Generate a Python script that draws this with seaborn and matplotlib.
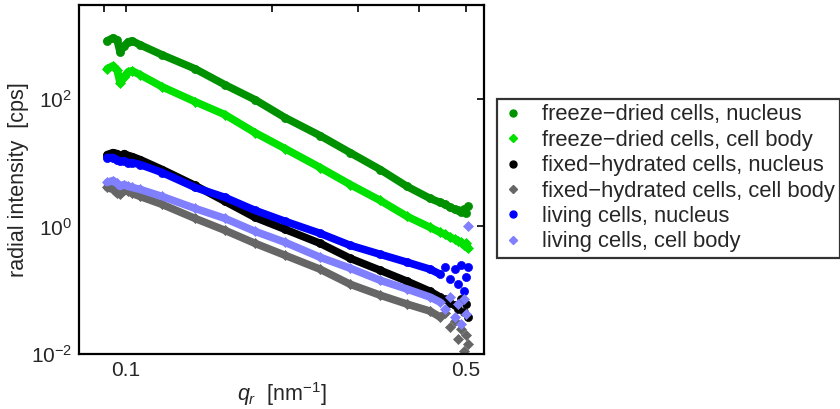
import numpy as np
import pandas as pd
import matplotlib
matplotlib.use("Agg")
import matplotlib.pyplot as plt
import seaborn as sns
from matplotlib.lines import Line2D
from matplotlib.ticker import FixedLocator, FixedFormatter, NullFormatter, NullLocator

# scattering vector q_r [nm^-1]
q = [0.0914, 0.094, 0.0958, 0.0972, 0.0991, 0.101, 0.1029, 0.1069, 0.1186, 0.1387,
     0.1598, 0.1842, 0.2124, 0.2507, 0.289, 0.3332, 0.3786, 0.4221, 0.4426, 0.4533,
     0.4642, 0.4753, 0.482, 0.4889, 0.4958, 0.5005, 0.5053]

freeze_nucleus = [806, 898, 836, 542, 673, 778, 806, 698, 487, 294,
                  165, 96.5, 50.5, 26.4, 14.3, 7.78, 4.22, 2.74, 2.37, 2.21,
                  1.98, 1.84, 1.78, 1.71, 1.84, 1.60, 2.05]
freeze_body = [294, 328, 284, 178, 221, 264, 274, 237, 154, 89.8,
               56.2, 29.4, 16.5, 8.35, 4.53, 2.55, 1.43, 0.965, 0.806, 0.75,
               0.673, 0.627, 0.583, 0.562, 0.505, 0.542, 0.453]
fixed_nucleus = [13.3, 14.3, 13.8, 12.4, 13.8, 12.9, 12.4, 11.1, 7.78, 4.37,
                 2.46, 1.38, 0.898, 0.542, 0.316, 0.205, 0.138, 0.096, 0.078, 0.072,
                 0.063, 0.058, 0.050, 0.072, 0.045, 0.060, 0.038]
fixed_body = [4.07, 3.79, 3.28, 3.16, 3.65, 3.52, 3.28, 2.94, 2.21, 1.33,
              0.866, 0.542, 0.352, 0.213, 0.124, 0.0835, 0.0605, 0.047, 0.038, 0.0437,
              0.0264, 0.0328, 0.0172, 0.0246, 0.0111, 0.0198, 0.0143]
living_nucleus = [12.0, 12.0, 11.1, 10.4, 10.7, 10.0, 10.0, 9.3, 6.98, 4.07,
                  2.84, 1.78, 1.20, 0.777, 0.505, 0.365, 0.274, 0.213, 0.178, 0.229,
                  0.149, 0.213, 0.124, 0.246, 0.096, 0.159, 0.229]
living_body = [4.87, 5.23, 4.70, 4.22, 4.53, 4.22, 4.07, 3.79, 2.94, 1.91,
               1.33, 0.836, 0.562, 0.328, 0.221, 0.143, 0.104, 0.078, 0.065, 0.050,
               0.078, 0.038, 0.060, 0.029, 0.072, 0.042, 1.0]

labels = ["freeze\u2212dried cells, nucleus", "freeze\u2212dried cells, cell body",
          "fixed\u2212hydrated cells, nucleus", "fixed\u2212hydrated cells, cell body",
          "living cells, nucleus", "living cells, cell body"]
series = [freeze_nucleus, freeze_body, fixed_nucleus, fixed_body, living_nucleus, living_body]
colors = ["#009100", "#00E100", "#000000", "#666666", "#0000FF", "#8080FF"]
markers = ["o", "D", "o", "D", "o", "D"]
# where the continuous band of points ends (noisy tail drawn as single markers)
band_end = [0.501, 0.506, 0.443, 0.443, 0.443, 0.443]

sns.set_theme(style="white")
plt.rcParams['font.family'] = ['Liberation Sans', 'DejaVu Sans']
plt.rcParams['mathtext.fontset'] = 'custom'
plt.rcParams['mathtext.rm'] = 'Liberation Sans'
plt.rcParams['mathtext.it'] = 'Liberation Sans:italic'
plt.rcParams['mathtext.default'] = 'regular'

fig = plt.figure(figsize=(8.4, 4.09), dpi=100)
ax = fig.add_axes([79 / 840, 1 - 354 / 409, (484 - 79) / 840, (354 - 5) / 409])
ax.set_xscale('log')
ax.set_yscale('log')

for vals, lab, c, m, qe in zip(series, labels, colors, markers, band_end):
    df = pd.DataFrame({'q': q, 'I': vals})
    smooth = df[df['q'] <= qe]
    sns.lineplot(data=smooth, x='q', y='I', ax=ax, color=c, lw=5.5, sort=False,
                 estimator=None, solid_capstyle='round', solid_joinstyle='round', legend=False)
    sns.scatterplot(data=df, x='q', y='I', ax=ax, color=c, marker=m,
                    s=34 if m == 'o' else 26, edgecolor=c, linewidth=0.5, legend=False)

ax.set_xlim(0.08, 0.545)
ax.set_ylim(0.01, 10 ** 3.469)

ax.xaxis.set_major_locator(FixedLocator([0.1, 0.5]))
ax.xaxis.set_major_formatter(FixedFormatter(['0.1', '0.5']))
ax.xaxis.set_minor_locator(FixedLocator([0.09, 0.2, 0.3, 0.4]))
ax.xaxis.set_minor_formatter(NullFormatter())
ax.yaxis.set_major_locator(FixedLocator([1e-2, 1e0, 1e2]))
ax.yaxis.set_minor_locator(NullLocator())

ax.tick_params(which='both', direction='in', top=True, right=True, length=5,
               width=1.2, color='black', labelsize=15, pad=5)
for sp in ax.spines.values():
    sp.set_color('black')
    sp.set_linewidth(1.6)

ax.set_xlabel(r'$\mathit{q_r}$  [nm$^{-1}$]', fontsize=15.5, labelpad=0)
ax.set_ylabel('radial intensity  [cps]', fontsize=15.5, labelpad=1)

handles = [Line2D([], [], linestyle='none', marker=m, color=c, markersize=5 if m == 'o' else 4.5)
           for m, c in zip(markers, colors)]
leg = ax.legend(handles, labels, loc='upper left', bbox_to_anchor=(497 / 840, 1 - 99 / 409),
                bbox_transform=fig.transFigure, borderaxespad=0, frameon=True, fancybox=False,
                edgecolor='black', fontsize=15.8, handlelength=1.0, handletextpad=0.8,
                borderpad=0.25, labelspacing=0.2)
leg.get_frame().set_linewidth(1.6)

fig.savefig('out.png', dpi=100, facecolor='white')
